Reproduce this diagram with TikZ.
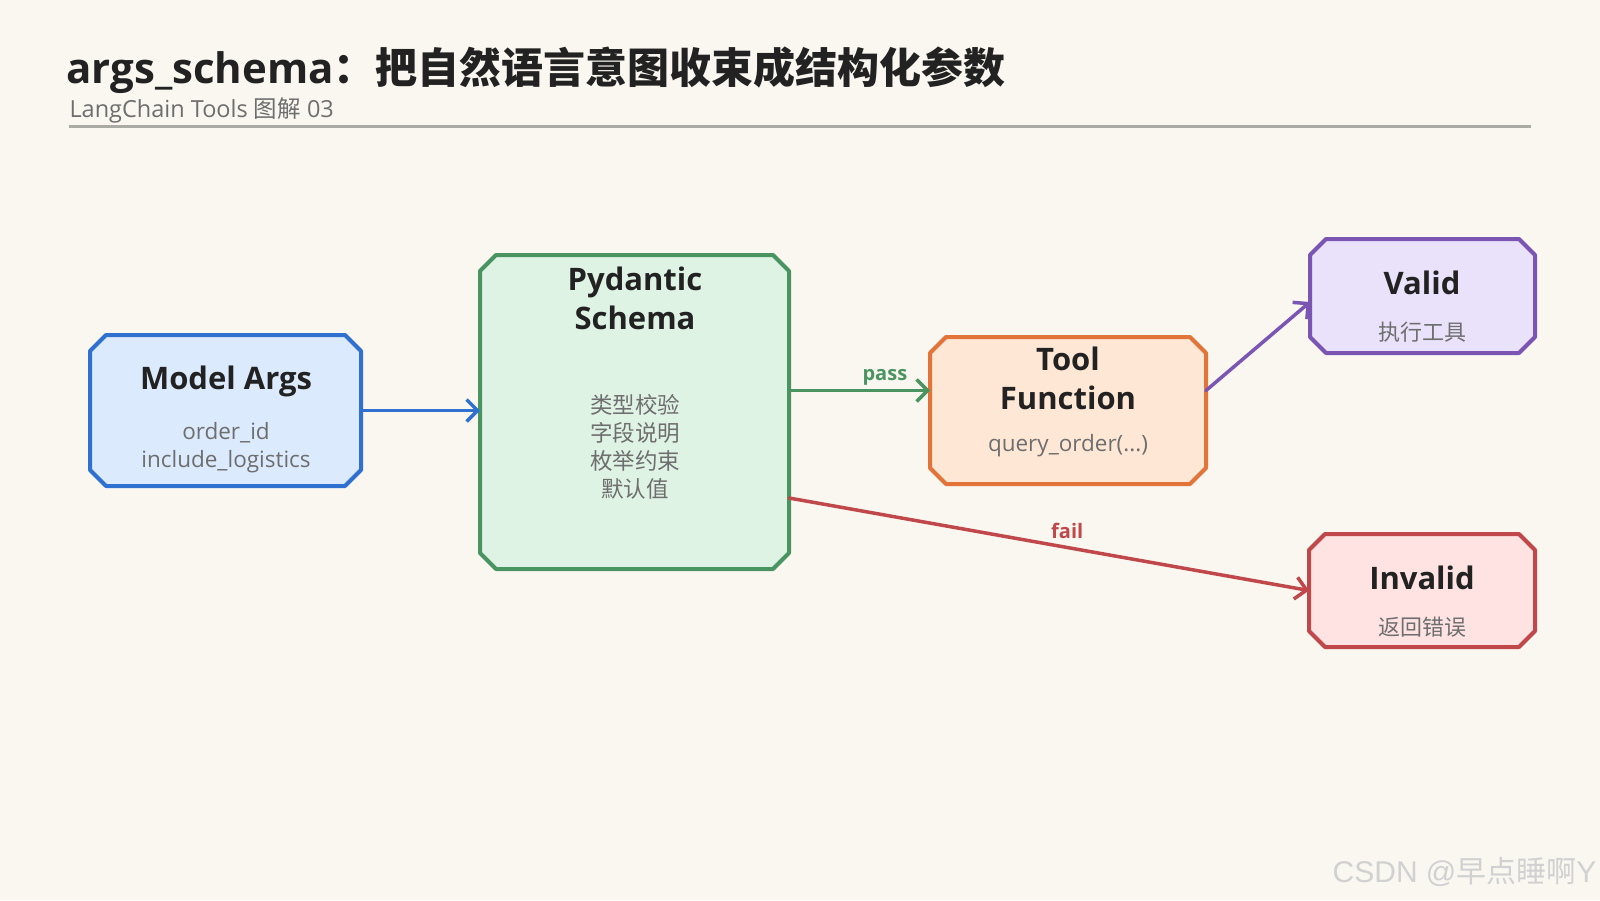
\documentclass[tikz,border=0pt]{standalone}
\usepackage{fontspec}
\setmainfont{Open Sans}
\newfontfamily\cjk{Noto Sans CJK SC}
\newfontfamily\marksans{Liberation Sans}
\usetikzlibrary{arrows.meta}

\definecolor{bgcream}{HTML}{F9F7F0}
\definecolor{inkdark}{HTML}{222222}
\definecolor{subgray}{HTML}{6E6E6E}
\definecolor{rulegray}{HTML}{ABABA5}
\definecolor{argsline}{HTML}{3070D0}
\definecolor{argsfill}{HTML}{DCEAFD}
\definecolor{schemaline}{HTML}{4A9462}
\definecolor{schemafill}{HTML}{DFF3E5}
\definecolor{toolline}{HTML}{E2743A}
\definecolor{toolfill}{HTML}{FFE7D6}
\definecolor{validline}{HTML}{7B55B3}
\definecolor{validfill}{HTML}{EAE2FA}
\definecolor{failline}{HTML}{C0474A}
\definecolor{failfill}{HTML}{FFE3E3}

% chamfered outline round a named node: #1 node, #2 line, #3 fill
\newcommand\chambox[3]{%
  \filldraw[draw=#2, fill=#3, line width=4pt, line join=round]
    ([xshift=16pt]#1.north west) -- ([xshift=-16pt]#1.north east)
    -- ([yshift=-16pt]#1.north east) -- ([yshift=16pt]#1.south east)
    -- ([xshift=-16pt]#1.south east) -- ([xshift=16pt]#1.south west)
    -- ([yshift=16pt]#1.south west) -- ([yshift=-16pt]#1.north west) -- cycle;}

\tikzset{
  box/.style={rectangle, inner sep=0pt, outer sep=2pt},
  boxtitle/.style={font=\fontsize{31}{39}\selectfont\bfseries, text=inkdark, align=center},
  boxsub/.style={font=\fontsize{22.5}{27.8}\selectfont, text=subgray, align=center},
  flow/.style={line width=3.5pt, line cap=round,
    -{Straight Barb[length=11pt,width=22pt,line width=3.5pt]}},
  flowlabel/.style={font=\fontsize{20}{24}\selectfont\bfseries},
}

\begin{document}
\begin{tikzpicture}[x=1pt,y=-1pt]
    \fill[bgcream] (0,0) rectangle (1600,900);
    \useasboundingbox (0,0) rectangle (1600,900);

    % heading
    \node[anchor=west, font=\fontsize{42}{44}\selectfont\bfseries, text=inkdark] (title) at (63,70)
        {args\_schema{\cjk\bfseries ：把自然语言意图收束成结构化参数}};
    \node[anchor=west, font=\fontsize{23.5}{25}\selectfont, text=subgray] (subtitle) at (66,110)
        {LangChain Tools {\cjk 图解} 03};
    \draw[line width=2.5pt, rulegray] (69,126.5) -- (1531,126.5);

    % boxes
    \node[box, minimum width=267pt, minimum height=147pt] (args) at (225.5,410.5) {};
    \node[box, minimum width=305pt, minimum height=310pt] (schema) at (634.5,412) {};
    \node[box, minimum width=272pt, minimum height=143pt] (tool) at (1068,410.5) {};
    \node[box, minimum width=221pt, minimum height=110pt] (valid) at (1422.5,296) {};
    \node[box, minimum width=222pt, minimum height=109pt] (invalid) at (1422,590.5) {};
    \chambox{args}{argsline}{argsfill}
    \chambox{schema}{schemaline}{schemafill}
    \chambox{tool}{toolline}{toolfill}
    \chambox{valid}{validline}{validfill}
    \chambox{invalid}{failline}{failfill}

    % box texts
    \node[boxtitle] (argsT) at (226,381) {Model Args};
    \node[boxsub] (argsS) at (226,448) {order\_id\\include\_logistics};
    \node[boxtitle] (schemaT) at (635,298) {Pydantic\\Schema};
    \node[boxsub] (schemaS) at (635,447) {{\cjk 类型校验}\\{\cjk 字段说明}\\{\cjk 枚举约束}\\{\cjk 默认值}};
    \node[boxtitle] (toolT) at (1068,378) {Tool\\Function};
    \node[boxsub] (toolS) at (1068,446) {query\_order(...)};
    \node[boxtitle] (validT) at (1422,283) {Valid};
    \node[boxsub, font=\fontsize{22}{24}\selectfont\cjk] (validS) at (1422,332) {执行工具};
    \node[boxtitle] (invalidT) at (1422,578) {Invalid};
    \node[boxsub, font=\fontsize{22}{24}\selectfont\cjk] (invalidS) at (1422,627) {返回错误};

    % connectors
    \draw[flow, argsline] (args.east) -- (args.east -| schema.west);
    \draw[flow, schemaline] ([yshift=20pt]tool.west -| schema.east) -- ([yshift=20pt]tool.west)
        node[flowlabel, pos=0.68, above, text=schemaline] (passL) {pass};
    \draw[flow, validline] ([yshift=20pt]tool.east) -- ([yshift=-6pt]valid.west);
    \draw[flow, failline] ([yshift=-86pt]schema.east) -- (invalid.west)
        node[flowlabel, pos=0.535, above=4pt, text=failline] (failL) {fail};

    % watermark
    \node[anchor=east, font=\fontsize{30}{32}\selectfont\marksans, text=black!18] (mark) at (1600,872)
        {CSDN @{\cjk 早点睡啊}Y};
\end{tikzpicture}
\end{document}
